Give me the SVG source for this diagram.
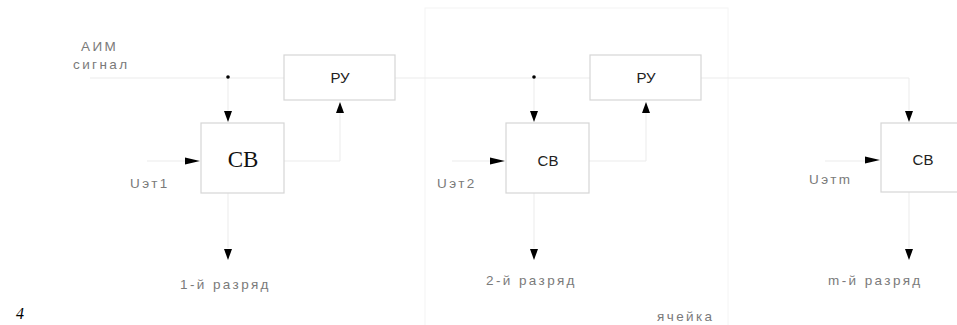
<svg xmlns="http://www.w3.org/2000/svg" width="957" height="325" viewBox="0 0 957 325">
<style>
.box{fill:#fff;stroke:#d6d6d6;stroke-width:1.2}
.ln{fill:none;stroke:#ebebeb;stroke-width:1}
.cell{fill:none;stroke:#f4f4f4;stroke-width:1}
.lbl{font-family:"Liberation Sans",Arial,sans-serif;font-size:13.5px;fill:#7a7a7a;letter-spacing:2.4px}
.bt{font-family:"Liberation Sans",Arial,sans-serif;font-size:15px;fill:#222;text-anchor:middle}
.ar{fill:#000}
</style>
<defs>
<path id="aDown" d="M-4,-11 L4,-11 L0,0 Z"/>
<path id="aUp" d="M-4,11 L4,11 L0,0 Z"/>
<path id="aRight" d="M-15,-3.5 L-15,3.5 L0,0 Z"/>
</defs>
<rect class="cell" x="425" y="8" width="303" height="330"/>
<g id="connectors">
<path class="ln" d="M90,78 H284 M395,78 H590 M701,78 H909 V111"/>
<path class="ln" d="M228,78 V111 M534,78 V111"/>
<path class="ln" d="M284,161 H340 V112 M589,161 H646 V112"/>
<path class="ln" d="M147,161 H185 M452,161 H490 M825,161 H865"/>
<path class="ln" d="M228,193 V248 M534,193 V248 M909,192 V248"/>
<circle cx="228" cy="77" r="1.8" fill="#000"/>
<circle cx="534" cy="77" r="1.8" fill="#000"/>
<use href="#aDown" class="ar" x="228" y="122"/>
<use href="#aDown" class="ar" x="534" y="122"/>
<use href="#aDown" class="ar" x="909" y="122"/>
<use href="#aUp" class="ar" x="340" y="102"/>
<use href="#aUp" class="ar" x="646" y="102"/>
<use href="#aRight" class="ar" x="200" y="161"/>
<use href="#aRight" class="ar" x="505" y="161"/>
<use href="#aRight" class="ar" x="880" y="160"/>
<use href="#aDown" class="ar" x="228" y="260"/>
<use href="#aDown" class="ar" x="534" y="260"/>
<use href="#aDown" class="ar" x="909" y="260"/>
</g>
<g id="ru1"><rect class="box" x="284" y="55" width="111" height="45"/><text class="bt" x="340" y="83">РУ</text></g>
<g id="ru2"><rect class="box" x="590" y="55" width="111" height="45"/><text class="bt" x="646" y="83">РУ</text></g>
<g id="cb1"><rect class="box" x="201" y="123" width="83" height="70"/><text x="243" y="167" text-anchor="middle" font-family="'Liberation Serif','Times New Roman',serif" font-size="23" fill="#111">CB</text></g>
<g id="cb2"><rect class="box" x="506" y="123" width="83" height="70"/><text class="bt" x="548" y="166" font-size="16">CB</text></g>
<g id="cbm"><rect class="box" x="881" y="123" width="90" height="69"/><text class="bt" x="923" y="165" font-size="16">CB</text></g>
<g id="labels">
<text class="lbl" x="81" y="51">АИМ</text>
<text class="lbl" x="73" y="69">сигнал</text>
<text class="lbl" x="130" y="188">Uэт1</text>
<text class="lbl" x="437" y="188">Uэт2</text>
<text class="lbl" x="809" y="184">Uэтm</text>
<text class="lbl" x="180" y="289">1-й разряд</text>
<text class="lbl" x="486" y="285">2-й разряд</text>
<text class="lbl" x="828" y="285">m-й разряд</text>
<text class="lbl" x="657" y="321">ячейка</text>
<text x="16" y="319" font-family="'Liberation Serif',serif" font-style="italic" font-size="16" fill="#000">4</text>
</g>
</svg>
